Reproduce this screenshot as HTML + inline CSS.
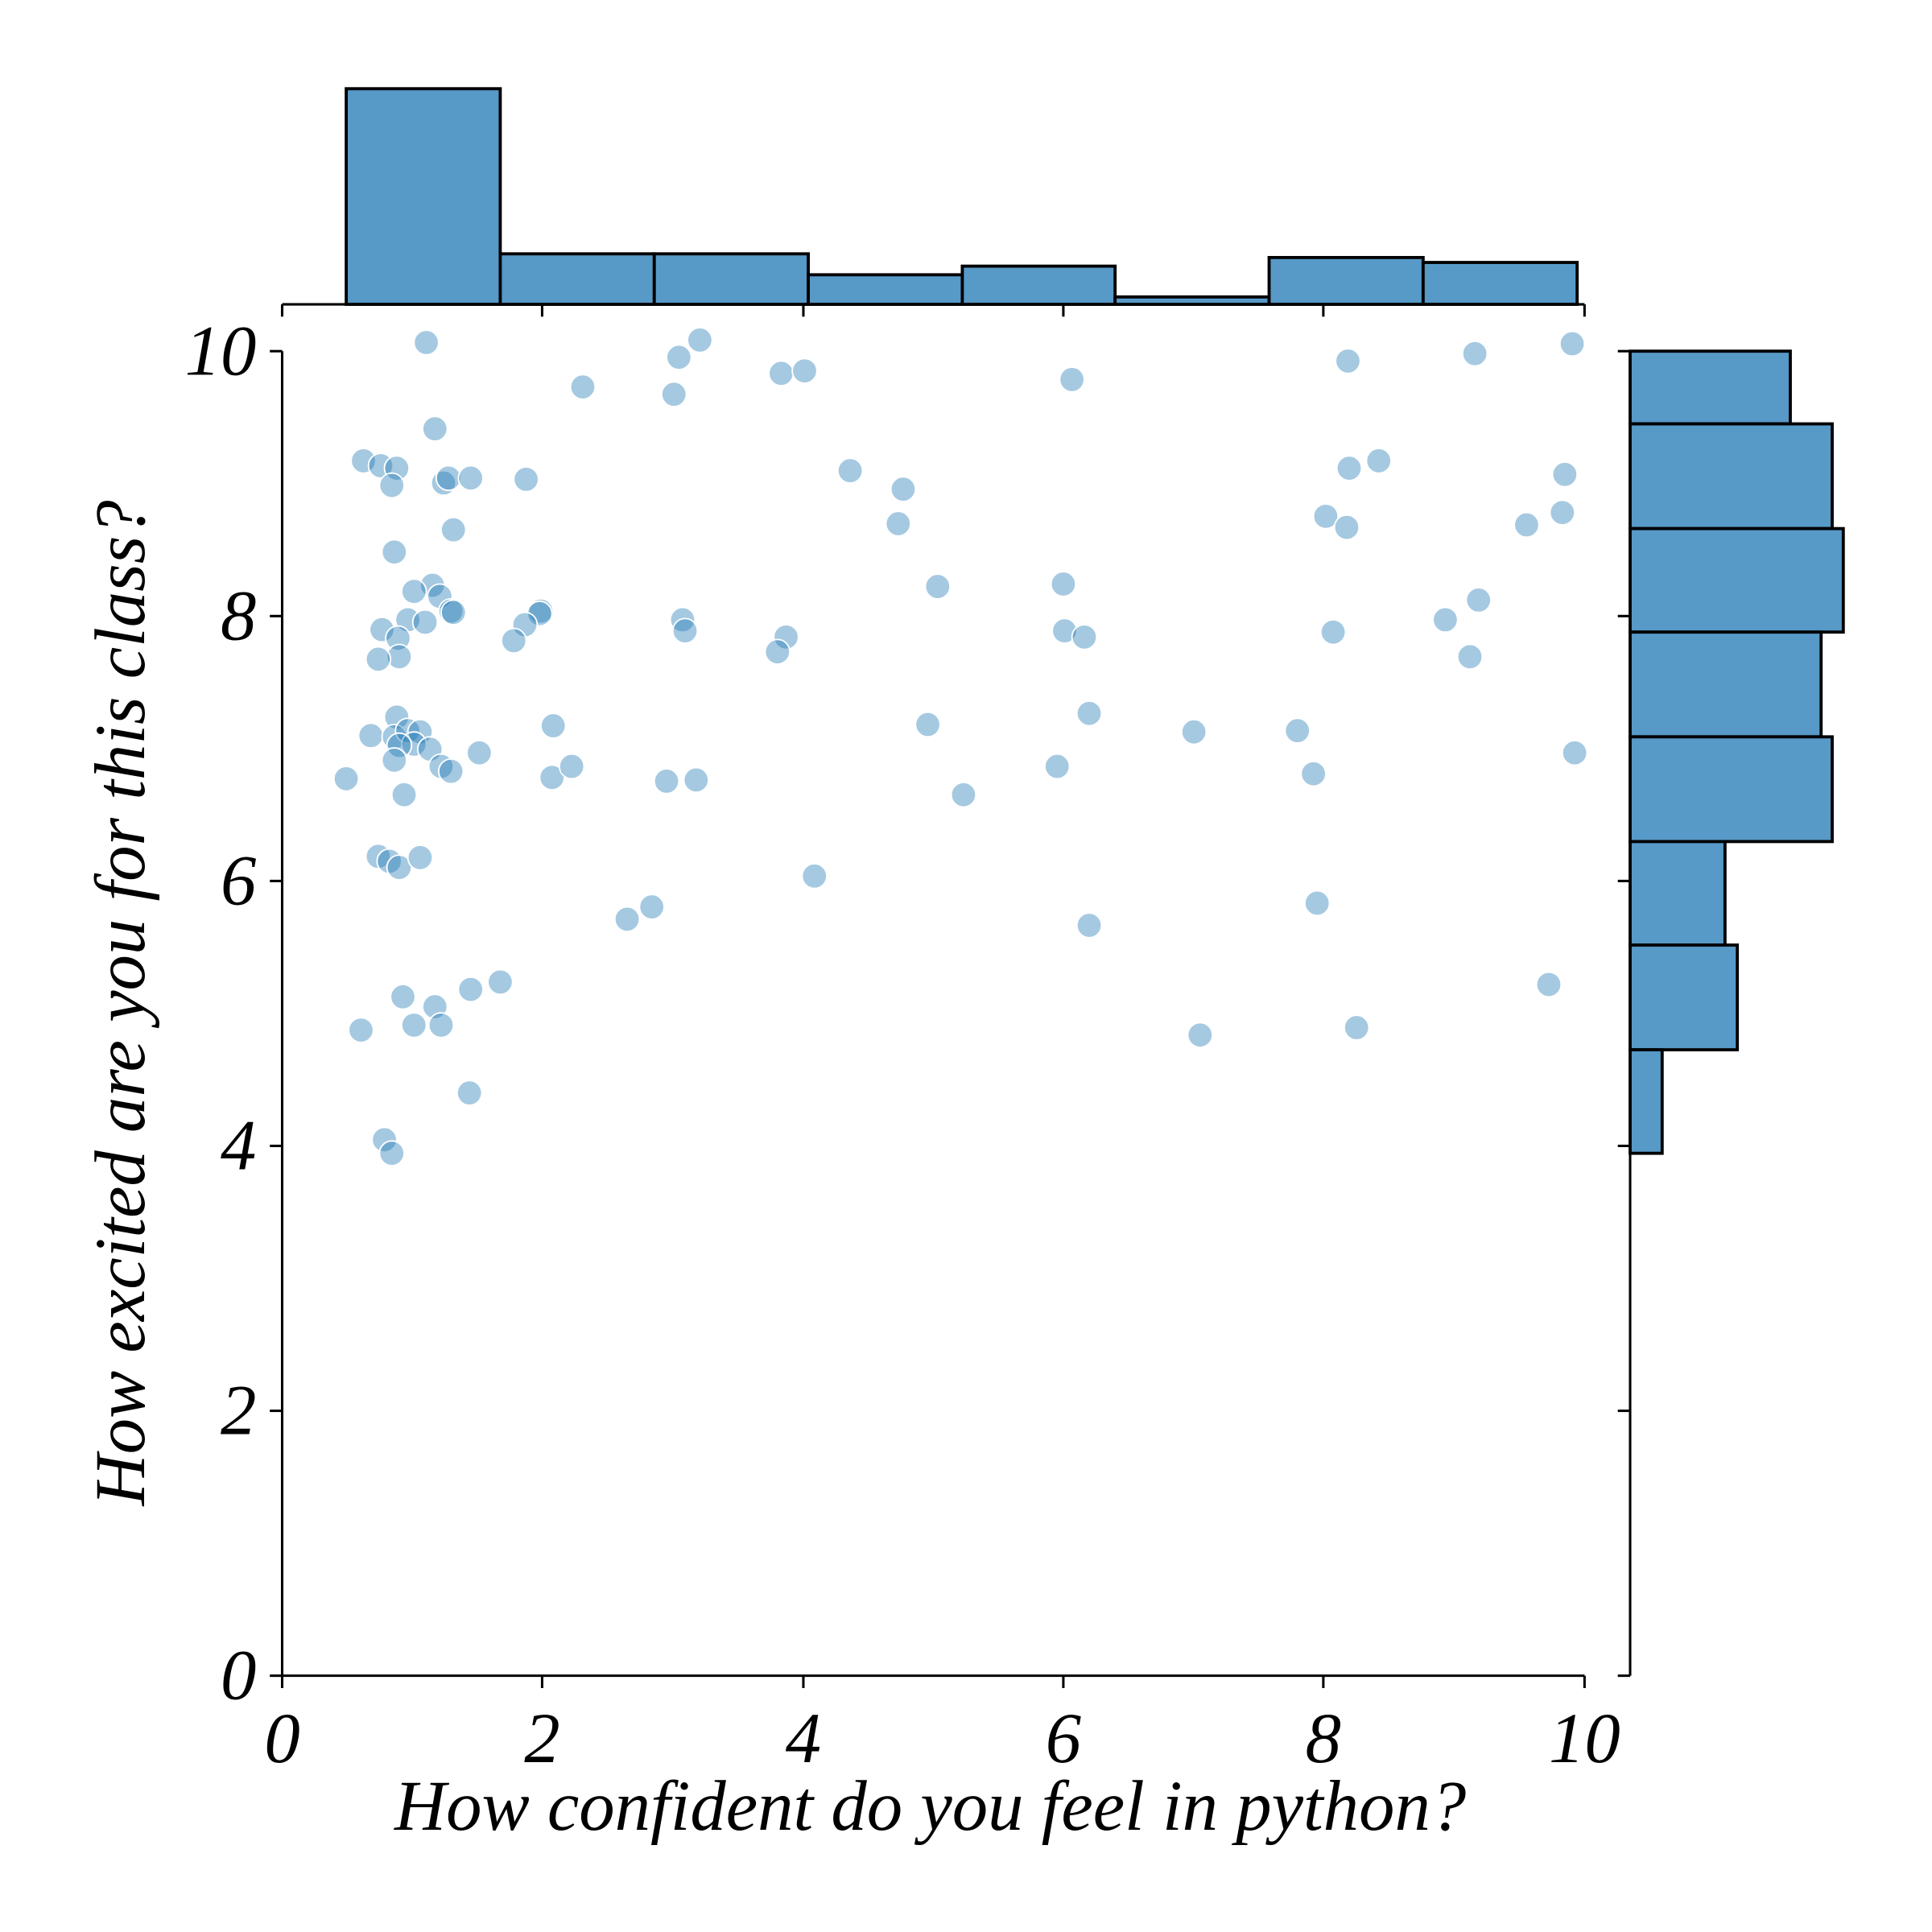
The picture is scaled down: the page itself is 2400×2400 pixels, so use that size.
<!DOCTYPE html>
<html><head><meta charset="utf-8"><style>
html,body{margin:0;padding:0;background:#fff;}
svg{display:block;}
text{font-family:"Liberation Serif",serif;font-style:italic;fill:#000;}
</style></head><body>
<svg width="2400" height="2400" viewBox="0 0 1568 1568" xmlns="http://www.w3.org/2000/svg">
<rect width="1568" height="1568" fill="#fff"/>
<g fill="#5799c7" stroke="#000" stroke-width="2.5">
<rect x="281" y="72" width="125" height="175"/>
<rect x="406" y="206" width="125" height="41"/>
<rect x="531" y="206" width="125" height="41"/>
<rect x="656" y="223" width="125" height="24"/>
<rect x="781" y="216" width="124" height="31"/>
<rect x="905" y="241" width="125" height="6"/>
<rect x="1030" y="209" width="125" height="38"/>
<rect x="1155" y="213" width="125" height="34"/>
</g>
<g stroke="#000" stroke-width="2">
<line x1="229" y1="247" x2="1286" y2="247"/>
<line x1="229" y1="247" x2="229" y2="257"/><line x1="440" y1="247" x2="440" y2="257"/><line x1="652" y1="247" x2="652" y2="257"/><line x1="863" y1="247" x2="863" y2="257"/><line x1="1074" y1="247" x2="1074" y2="257"/><line x1="1286" y1="247" x2="1286" y2="257"/>
</g>
<g fill="#5799c7" stroke="#000" stroke-width="2.5">
<rect x="1323" y="285" width="130" height="59"/>
<rect x="1323" y="344" width="164" height="85"/>
<rect x="1323" y="429" width="173" height="84"/>
<rect x="1323" y="513" width="155" height="85"/>
<rect x="1323" y="598" width="164" height="85"/>
<rect x="1323" y="683" width="77" height="84"/>
<rect x="1323" y="767" width="87" height="85"/>
<rect x="1323" y="852" width="26" height="84"/>
</g>
<g stroke="#000" stroke-width="2">
<line x1="1323" y1="285" x2="1323" y2="1360"/>
<line x1="1313" y1="285" x2="1323" y2="285"/><line x1="1313" y1="500" x2="1323" y2="500"/><line x1="1313" y1="715" x2="1323" y2="715"/><line x1="1313" y1="930" x2="1323" y2="930"/><line x1="1313" y1="1145" x2="1323" y2="1145"/><line x1="1313" y1="1360" x2="1323" y2="1360"/>
</g>
<g fill="#1f77b4" fill-opacity="0.4" stroke="#fff" stroke-width="1.2">
<circle cx="346" cy="278" r="10"/><circle cx="551" cy="290" r="10"/><circle cx="568" cy="276" r="10"/><circle cx="473" cy="314" r="10"/><circle cx="547" cy="320" r="10"/><circle cx="634" cy="303" r="10"/><circle cx="653" cy="301" r="10"/><circle cx="870" cy="308" r="10"/><circle cx="1094" cy="293" r="10"/><circle cx="1197" cy="287" r="10"/><circle cx="1276" cy="279" r="10"/>
<circle cx="353" cy="348" r="10"/><circle cx="295" cy="374" r="10"/><circle cx="309" cy="378" r="10"/><circle cx="322" cy="380" r="10"/><circle cx="318" cy="394" r="10"/><circle cx="360" cy="392" r="10"/><circle cx="364" cy="388" r="10"/><circle cx="382" cy="388" r="10"/><circle cx="427" cy="389" r="10"/><circle cx="690" cy="382" r="10"/><circle cx="733" cy="397" r="10"/><circle cx="1119" cy="374" r="10"/><circle cx="1095" cy="380" r="10"/><circle cx="1270" cy="385" r="10"/>
<circle cx="368" cy="430" r="10"/><circle cx="729" cy="425" r="10"/><circle cx="1076" cy="419" r="10"/><circle cx="1093" cy="428" r="10"/><circle cx="1239" cy="426" r="10"/><circle cx="1268" cy="416" r="10"/>
<circle cx="320" cy="448" r="10"/><circle cx="351" cy="475" r="10"/><circle cx="336" cy="480" r="10"/><circle cx="357" cy="484" r="10"/><circle cx="366" cy="496" r="10"/><circle cx="368" cy="497" r="10"/><circle cx="439" cy="496" r="10"/><circle cx="438" cy="498" r="10"/><circle cx="426" cy="507" r="10"/><circle cx="417" cy="520" r="10"/><circle cx="331" cy="503" r="10"/><circle cx="345" cy="505" r="10"/><circle cx="310" cy="511" r="10"/><circle cx="323" cy="518" r="10"/><circle cx="324" cy="533" r="10"/><circle cx="307" cy="535" r="10"/><circle cx="554" cy="503" r="10"/><circle cx="556" cy="512" r="10"/><circle cx="638" cy="517" r="10"/><circle cx="631" cy="529" r="10"/><circle cx="761" cy="476" r="10"/><circle cx="863" cy="474" r="10"/><circle cx="864" cy="512" r="10"/><circle cx="880" cy="517" r="10"/><circle cx="1082" cy="513" r="10"/><circle cx="1173" cy="503" r="10"/><circle cx="1200" cy="487" r="10"/><circle cx="1193" cy="533" r="10"/>
<circle cx="322" cy="582" r="10"/><circle cx="301" cy="597" r="10"/><circle cx="320" cy="598" r="10"/><circle cx="331" cy="593" r="10"/><circle cx="341" cy="594" r="10"/><circle cx="336" cy="604" r="10"/><circle cx="324" cy="605" r="10"/><circle cx="349" cy="608" r="10"/><circle cx="320" cy="617" r="10"/><circle cx="358" cy="622" r="10"/><circle cx="366" cy="626" r="10"/><circle cx="389" cy="611" r="10"/><circle cx="449" cy="589" r="10"/><circle cx="448" cy="631" r="10"/><circle cx="464" cy="622" r="10"/><circle cx="541" cy="634" r="10"/><circle cx="565" cy="633" r="10"/><circle cx="328" cy="645" r="10"/><circle cx="753" cy="588" r="10"/><circle cx="782" cy="645" r="10"/><circle cx="858" cy="622" r="10"/><circle cx="884" cy="579" r="10"/><circle cx="969" cy="594" r="10"/><circle cx="1053" cy="593" r="10"/><circle cx="1066" cy="628" r="10"/><circle cx="1278" cy="611" r="10"/><circle cx="281" cy="632" r="10"/>
<circle cx="307" cy="695" r="10"/><circle cx="316" cy="699" r="10"/><circle cx="324" cy="704" r="10"/><circle cx="341" cy="696" r="10"/><circle cx="661" cy="711" r="10"/><circle cx="509" cy="746" r="10"/><circle cx="529" cy="736" r="10"/><circle cx="1069" cy="733" r="10"/><circle cx="884" cy="751" r="10"/>
<circle cx="327" cy="809" r="10"/><circle cx="353" cy="817" r="10"/><circle cx="336" cy="832" r="10"/><circle cx="358" cy="832" r="10"/><circle cx="382" cy="803" r="10"/><circle cx="406" cy="797" r="10"/><circle cx="293" cy="836" r="10"/><circle cx="1257" cy="799" r="10"/><circle cx="974" cy="840" r="10"/><circle cx="1101" cy="834" r="10"/><circle cx="381" cy="887" r="10"/><circle cx="312" cy="925" r="10"/><circle cx="318" cy="936" r="10"/>
</g>
<g stroke="#000" stroke-width="2">
<line x1="229" y1="285" x2="229" y2="1360"/>
<line x1="229" y1="1360" x2="1286" y2="1360"/>
<line x1="219" y1="285" x2="229" y2="285"/><line x1="219" y1="500" x2="229" y2="500"/><line x1="219" y1="715" x2="229" y2="715"/><line x1="219" y1="930" x2="229" y2="930"/><line x1="219" y1="1145" x2="229" y2="1145"/><line x1="219" y1="1360" x2="229" y2="1360"/>
<line x1="229" y1="1360" x2="229" y2="1370"/><line x1="440" y1="1360" x2="440" y2="1370"/><line x1="652" y1="1360" x2="652" y2="1370"/><line x1="863" y1="1360" x2="863" y2="1370"/><line x1="1074" y1="1360" x2="1074" y2="1370"/><line x1="1286" y1="1360" x2="1286" y2="1370"/>
</g>
<g font-size="58" text-anchor="end">
<text x="208" y="304">10</text><text x="208" y="519">8</text><text x="208" y="734">6</text><text x="208" y="949">4</text><text x="208" y="1164">2</text><text x="208" y="1379">0</text>
</g>
<g font-size="58" text-anchor="middle">
<text x="229" y="1430">0</text><text x="440" y="1430">2</text><text x="652" y="1430">4</text><text x="863" y="1430">6</text><text x="1074" y="1430">8</text><text x="1286" y="1430">10</text>
</g>
<text x="755" y="1485" font-size="58" text-anchor="middle">How confident do you feel in python?</text>
<text transform="translate(117 814) rotate(-90)" font-size="58" text-anchor="middle">How excited are you for this class?</text>
</svg>
</body></html>
